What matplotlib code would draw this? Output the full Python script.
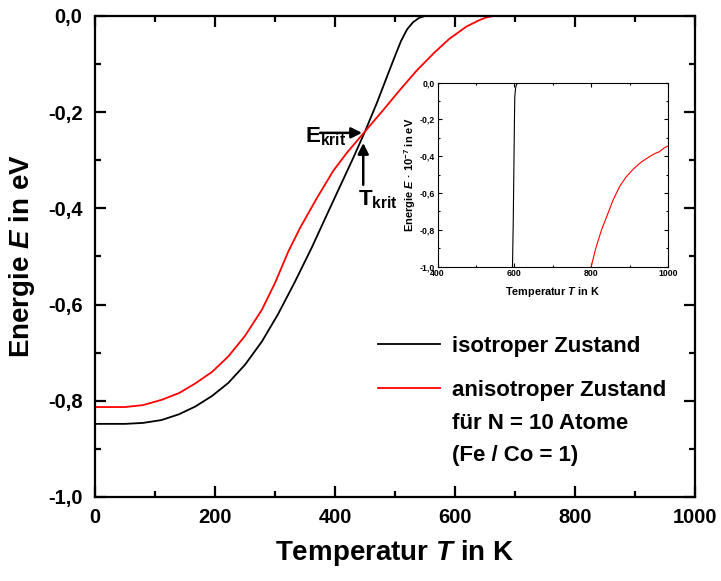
import numpy as np
import matplotlib
matplotlib.use('Agg')
import matplotlib.pyplot as plt
from matplotlib.ticker import MultipleLocator, FuncFormatter
from matplotlib.lines import Line2D

FONT = 'Liberation Sans'
plt.rcParams['font.family'] = [FONT, 'DejaVu Sans']
plt.rcParams['font.weight'] = 'bold'
plt.rcParams['mathtext.fontset'] = 'custom'
plt.rcParams['mathtext.rm'] = FONT + ':bold'
plt.rcParams['mathtext.it'] = FONT + ':bold:italic'
plt.rcParams['mathtext.bf'] = FONT + ':bold'

# Hauptdiagramm: Energie gegen Temperatur
t_iso = [0, 50, 80, 111, 140, 167, 195, 222, 250, 278, 305, 333, 361, 385, 408,
         430, 450, 470, 486, 500, 510, 520, 530, 540, 550, 560, 1000]
e_iso = [-0.848, -0.848, -0.846, -0.840, -0.828, -0.812, -0.790, -0.763, -0.725,
         -0.677, -0.620, -0.553, -0.482, -0.417, -0.355, -0.296, -0.240, -0.180,
         -0.128, -0.083, -0.052, -0.028, -0.013, -0.004, 0.0, 0.0, 0.0]

t_aniso = [0, 50, 80, 111, 140, 167, 195, 222, 250, 278, 300, 322, 342, 370, 397,
           420, 450, 480, 508, 535, 564, 590, 619, 640, 652, 665, 1000]
e_aniso = [-0.813, -0.813, -0.809, -0.798, -0.784, -0.764, -0.740, -0.708, -0.665,
           -0.611, -0.555, -0.490, -0.440, -0.378, -0.322, -0.284, -0.240, -0.196,
           -0.154, -0.115, -0.078, -0.048, -0.022, -0.009, -0.003, 0.0, 0.0]

# Inset: Energie * 10^-7
t_iso_in = [590, 595, 597, 598.6, 600, 601, 603, 605, 608, 610, 1000]
e_iso_in = [-1.05, -1.0, -0.75, -0.47, -0.22, -0.076, -0.03, -0.013, -0.003, 0.0, 0.0]
t_aniso_in = [800, 812, 827, 842, 857, 874, 890, 909, 930, 952, 966, 978, 990, 1000]
e_aniso_in = [-1.0, -0.90, -0.80, -0.72, -0.638, -0.565, -0.515, -0.471, -0.432,
              -0.402, -0.385, -0.375, -0.355, -0.344]

krit_t = 450
krit_e = -0.24


def komma(v, pos):
    return '{:.1f}'.format(v).replace('.', ',')


def style_axes(ax, lw, maj, mnr, size):
    for s in ax.spines.values():
        s.set_linewidth(lw)
    ax.tick_params(which='both', direction='in', top=True, right=True,
                   width=lw, labelsize=size)
    ax.tick_params(which='major', length=maj)
    ax.tick_params(which='minor', length=mnr)


fig = plt.figure(figsize=(7.21, 5.81), dpi=100)
ax = fig.add_axes([0.1318, 0.1446, 0.8322, 0.8279])
ax.plot(t_iso, e_iso, color='black', lw=1.3)
ax.plot(t_aniso, e_aniso, color='#ff0000', lw=1.3)
ax.set_xlim(0, 1000)
ax.set_ylim(-1.0, 0.0)
ax.xaxis.set_major_locator(MultipleLocator(200))
ax.xaxis.set_minor_locator(MultipleLocator(100))
ax.yaxis.set_major_locator(MultipleLocator(0.2))
ax.yaxis.set_minor_locator(MultipleLocator(0.1))
ax.yaxis.set_major_formatter(FuncFormatter(komma))
style_axes(ax, 1.6, 8, 4, 14.5)
ax.tick_params(axis='x', pad=8)
ax.tick_params(axis='y', pad=9)
ax.set_xlabel('Temperatur $T$ in K', fontsize=20, fontweight='bold', labelpad=8)
ax.set_ylabel('Energie $E$ in eV', fontsize=20, fontweight='bold', labelpad=8)

# Pfeile fuer E_krit und T_krit
ax.annotate('', xy=(krit_t - 5, krit_e - 0.003), xytext=(krit_t - 75, krit_e - 0.003),
            arrowprops=dict(arrowstyle='-|>', color='black', lw=1.8,
                            mutation_scale=16, shrinkA=0, shrinkB=0))
ax.annotate('', xy=(krit_t - 3, krit_e - 0.024), xytext=(krit_t - 3, krit_e - 0.111),
            arrowprops=dict(arrowstyle='-|>', color='black', lw=1.8,
                            mutation_scale=16, shrinkA=0, shrinkB=0))
ax.text(350, -0.262, 'E$_{\\mathrm{krit}}$', fontsize=16, fontweight='bold',
        ha='left', va='baseline')
ax.text(438, -0.393, 'T$_{\\mathrm{krit}}$', fontsize=16, fontweight='bold',
        ha='left', va='baseline')

# Legende
handles = [Line2D([], [], color='black', lw=1.3),
           Line2D([], [], color='#ff0000', lw=1.3)]
ax.legend(handles, ['isotroper Zustand', 'anisotroper Zustand'],
          loc='upper left', bbox_to_anchor=(0.472, 0.335), frameon=False,
          prop={'weight': 'bold', 'size': 16},
          handlelength=2.8, handletextpad=0.54, labelspacing=1.03,
          borderpad=0, borderaxespad=0)
ax.text(595, -0.847, 'für N = 10 Atome', fontsize=16, fontweight='bold',
        ha='left', va='center')
ax.text(595, -0.913, '(Fe / Co = 1)', fontsize=16, fontweight='bold',
        ha='left', va='center')

# Inset
ins = fig.add_axes([0.607, 0.541, 0.3194, 0.3167])
ins.plot(t_iso_in, e_iso_in, color='black', lw=0.8)
ins.plot(t_aniso_in, e_aniso_in, color='#ff0000', lw=0.8)
ins.set_xlim(400, 1000)
ins.set_ylim(-1.0, 0.0)
ins.xaxis.set_major_locator(MultipleLocator(200))
ins.xaxis.set_minor_locator(MultipleLocator(100))
ins.yaxis.set_major_locator(MultipleLocator(0.2))
ins.yaxis.set_minor_locator(MultipleLocator(0.1))
ins.yaxis.set_major_formatter(FuncFormatter(komma))
style_axes(ins, 0.8, 3, 1.5, 6.3)
ins.tick_params(pad=2)
ins.set_xlabel('Temperatur $T$ in K', fontsize=7.8, fontweight='bold', labelpad=5)
ins.set_ylabel('Energie $E$ · 10$^{-7}$ in eV', fontsize=8.0, fontweight='bold',
               labelpad=1)

fig.savefig('out.png', dpi=100)
